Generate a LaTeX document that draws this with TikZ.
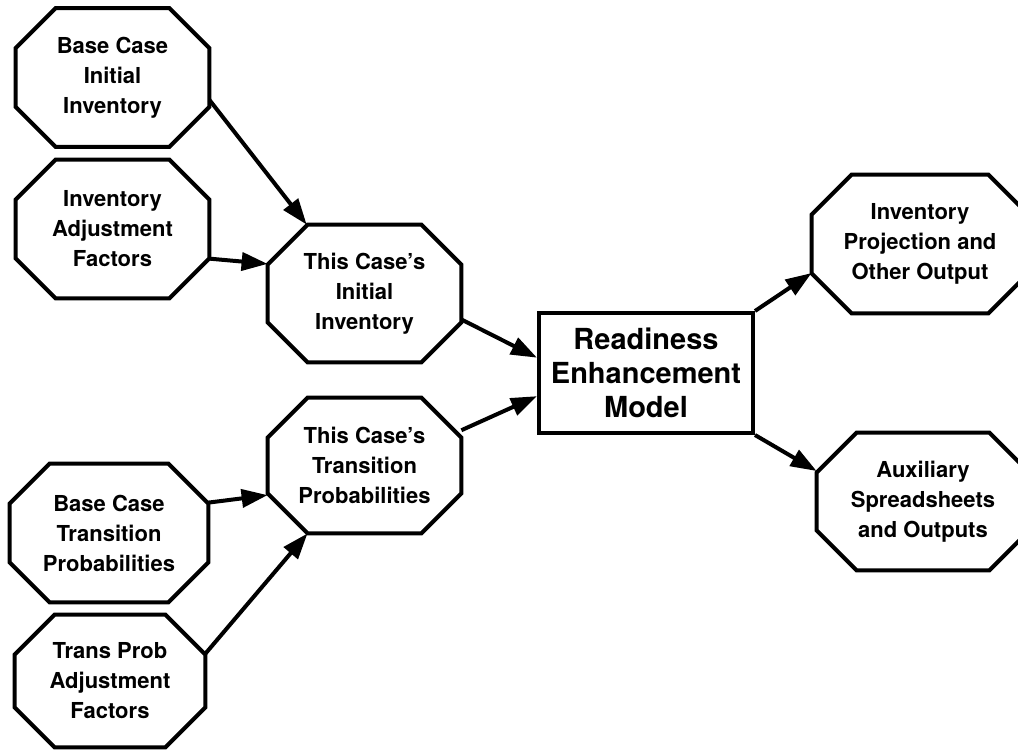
\documentclass[tikz,border=0pt]{standalone}
\usepackage{fontspec}
\setmainfont{TeX Gyre Heros}
\usetikzlibrary{arrows.meta}

\tikzset{
  octo/.style={rectangle, align=center, inner sep=0pt,
    minimum width=96.5pt, minimum height=69pt,
    font=\bfseries\fontsize{11}{15}\selectfont},
  octline/.style={line width=2pt, line join=miter},
  modelbox/.style={rectangle, draw, line width=2pt, align=center,
    minimum width=107pt, minimum height=60pt, inner sep=0pt,
    font=\bfseries\fontsize{14.5}{17}\selectfont},
  flow/.style={-{Triangle[length=13pt, width=9pt]}, line width=2pt}
}

\begin{document}
\begin{tikzpicture}[x=0.5pt, y=-0.5pt]
    \useasboundingbox (0,0) rectangle (1018,750);

    % Inputs
    \node[octo] (bci) at (112.5,77.5) {Base Case\\Initial\\Inventory};
    \node[octo] (iaf) at (112.5,229) {Inventory\\Adjustment\\Factors};
    \node[octo, minimum width=99pt] (bct) at (109,533) {Base Case\\Transition\\Probabilities};
    \node[octo, minimum width=95pt, minimum height=66pt] (tpa) at (110,681) {Trans Prob\\Adjustment\\Factors};

    % This case
    \node[octo, minimum height=68.5pt] (tci) at (364.5,293.5) {This Case's\\Initial\\Inventory};
    \node[octo, minimum height=67.5pt] (tct) at (364.5,465.5) {This Case's\\Transition\\Probabilities};

    % Model
    \node[modelbox] (rem) at (646,373) {Readiness\\Enhancement\\Model};

    % Outputs
    \node[octo, minimum width=108pt] (ipo) at (920,244) {Inventory\\Projection and\\Other Output};
    \node[octo, minimum width=106pt, minimum height=68.5pt] (aso) at (923,501.5) {Auxiliary\\Spreadsheets\\and Outputs};

    % Octagon outlines
    \foreach \n in {bci,iaf,bct,tpa,tci,tct,ipo,aso}
      \draw[octline] ([xshift=20pt]\n.north west) -- ([xshift=-20pt]\n.north east)
        -- ([yshift=-20pt]\n.north east) -- ([yshift=20pt]\n.south east)
        -- ([xshift=-20pt]\n.south east) -- ([xshift=20pt]\n.south west)
        -- ([yshift=20pt]\n.south west) -- ([yshift=-20pt]\n.north west) -- cycle;

    % Flows
    \draw[flow] (bci.-13.3) -- (tci.130);
    \draw[flow] (iaf.-17.4) -- (tci.163.5);
    \draw[flow] (bct.17.4) -- (tct.-163);
    \draw[flow] (tpa.16.4) -- (tct.-130.4);
    \draw[flow] (tci.-15.4) -- (rem.172);
    \draw[flow] (tct.20.2) -- (rem.-168.9);
    \draw[flow] (rem.north east) -- (ipo.-165);
    \draw[flow] (rem.south east) -- (aso.164.4);
\end{tikzpicture}
\end{document}
